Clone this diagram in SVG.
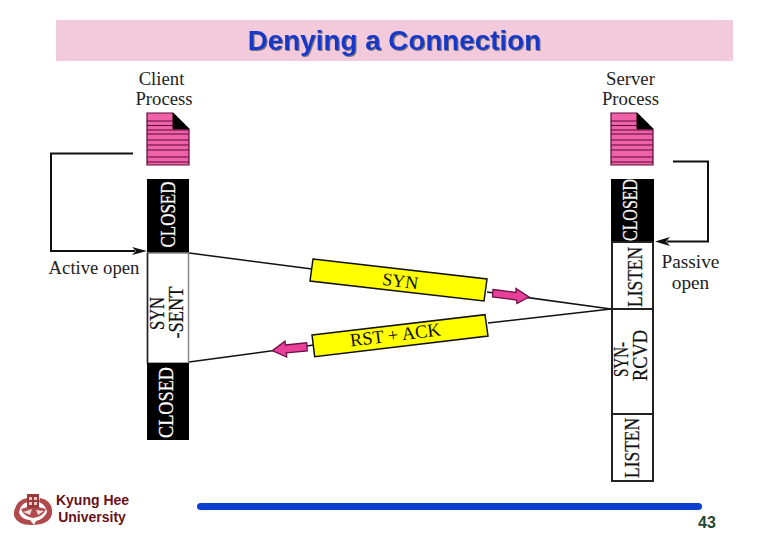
<svg xmlns="http://www.w3.org/2000/svg" width="780" height="540" viewBox="0 0 780 540">
<defs>
<style>
.s{font-family:"Liberation Serif","Times New Roman",serif;fill:#111}
.l{font-size:18.700px;text-anchor:middle;fill:#222}
.st{font-size:21px;text-anchor:middle;stroke:#111;stroke-width:.25}
.w{fill:#fff;stroke:#fff}
.ln{fill:none;stroke:#111;stroke-width:1.5}
.lp{fill:none;stroke:#111;stroke-width:2}
.band{fill:#ffff00;stroke:#111;stroke-width:1.5}
.pink{fill:#e8409a;stroke:#6a1045;stroke-width:1.300}
.dl{stroke:#5a0a30;stroke-width:1.2}
.box{stroke:#222;stroke-width:2;fill:#fff}
.sa{font-family:"Liberation Sans",Arial,sans-serif;font-weight:700}
</style>
<g id="doc">
<path d="M0 0H26L42 16V52H0Z" fill="#ef62aa" stroke="#5a0a30" stroke-width="1.2"/>
<path d="M26 0L42 16H26Z" fill="#000" stroke="#000"/>
<path class="dl" d="M0 8H26M0 12.500H26M0 17H42M0 21H42M0 27H42M0 32H42M0 37H42M0 44H42M0 49H42"/>
</g>
<filter id="sh" x="-5%" y="-20%" width="110%" height="140%"><feDropShadow dx="1" dy="1" stdDeviation="0.4" flood-color="#777"/></filter>
</defs>
<rect id="title-band" x="56" y="20" width="677" height="41" fill="#f3c9dc"/>
<text id="title" class="sa" x="394.500" y="50" font-size="27.800" text-anchor="middle" fill="#1438c8" filter="url(#sh)">Denying a Connection</text>

<g id="connectors">
<path class="ln" d="M189 253L312 269M487 292L611 309"/>
<path class="ln" d="M611 309L488 323M314 345L189 362"/>
<path class="lp" d="M133 153.500H51V251H135"/>
<path d="M147 251L132 247L136 251L132 255Z" fill="#111"/>
<path class="lp" d="M673 161.500H708V241.500H667"/>
<path d="M655 241.500L670 237L666 241.500L670 246Z" fill="#111"/>
</g>

<g id="client-process">
<text class="s l" x="161.500" y="85">Client</text>
<text class="s l" x="164" y="105">Process</text>
<use href="#doc" x="147" y="113"/>
</g>
<g id="client-closed-1">
<rect x="147" y="179" width="42" height="74" fill="#000"/>
<text class="s st w" transform="translate(175 214.500) rotate(-90)" textLength="66" lengthAdjust="spacingAndGlyphs">CLOSED</text>
</g>
<g id="client-syn-sent">
<rect x="147.500" y="253" width="41" height="110" fill="#fff" stroke="#888" stroke-width="1.500"/>
<path d="M147.500 253V363" stroke="#222" stroke-width="1.500"/>
<text class="s st" transform="translate(164 313.500) rotate(-90)" textLength="33" lengthAdjust="spacingAndGlyphs">SYN</text>
<text class="s st" transform="translate(183 312.500) rotate(-90)" textLength="52" lengthAdjust="spacingAndGlyphs">-SENT</text>
</g>
<g id="client-closed-2">
<rect x="147" y="363" width="42" height="77" fill="#000"/>
<text class="s st w" transform="translate(173 402.500) rotate(-90)" textLength="71" lengthAdjust="spacingAndGlyphs">CLOSED</text>
</g>

<g id="server-process">
<text class="s l" x="630.500" y="85">Server</text>
<text class="s l" x="630.500" y="105">Process</text>
<use href="#doc" x="611" y="113"/>
</g>
<g id="server-closed">
<rect x="611" y="179" width="43" height="63" fill="#000"/>
<text class="s st w" transform="translate(637 210) rotate(-90)" textLength="62" lengthAdjust="spacingAndGlyphs">CLOSED</text>
</g>
<g id="server-listen-1">
<rect class="box" x="612" y="242" width="41" height="67"/>
<text class="s st" transform="translate(642 277) rotate(-90)" textLength="60" lengthAdjust="spacingAndGlyphs">LISTEN</text>
</g>
<g id="server-syn-rcvd">
<rect class="box" x="612" y="309" width="41" height="105"/>
<text class="s st" transform="translate(628 359.500) rotate(-90)" textLength="35" lengthAdjust="spacingAndGlyphs">SYN-</text>
<text class="s st" transform="translate(647 355.500) rotate(-90)" textLength="51" lengthAdjust="spacingAndGlyphs">RCVD</text>
</g>
<g id="server-listen-2">
<rect class="box" x="612" y="414" width="41" height="67"/>
<text class="s st" transform="translate(639 448) rotate(-90)" textLength="60" lengthAdjust="spacingAndGlyphs">LISTEN</text>
</g>

<g id="label-active-open"><text class="s l" x="94" y="274">Active open</text></g>
<g id="label-passive-open">
<text class="s l" x="690.500" y="268" style="font-size:19.300px">Passive</text>
<text class="s l" x="690.500" y="289" style="font-size:19.300px">open</text>
</g>

<g id="segment-syn">
<path class="band" d="M313 259L487 279L484 301L310 281Z"/>
<text class="s" font-size="18" text-anchor="middle" transform="translate(399.500 287) rotate(7.500)">SYN</text>
<path class="pink" d="M493 289.500L516 292.500L516 288.500L529 297L517 303.500L516.500 300L492.500 297Z"/>
</g>
<g id="segment-rst-ack">
<path class="band" d="M312 335L485 314.700L488 336L314.700 356.700Z"/>
<text class="s" font-size="18.500" text-anchor="middle" transform="translate(396 341) rotate(-7)">RST + ACK</text>
<path class="pink" d="M306.700 342.800L307.300 351L286.500 352.800L286.700 357L272.300 350.700L285 341.200L285.500 345Z"/>
</g>

<g id="logo">
<g fill="#b04a4c">
<path d="M14 512Q16 500 27 498L28 502Q20 504 19 513Q22 520 30 520L34 525Q18 526 14 516Z"/>
<path d="M52 510Q51 500 40 498L39 502Q46 505 47 512Q44 519 36 521L34 525Q50 524 52 514Z"/>
<path d="M21 509Q32 504 46 509Q43 517 33 518Q24 517 21 509Z"/>
</g>
<path d="M27 494H39V508H27Z" fill="#9a3a3a"/>
<path d="M29 497H32V500H29ZM34 497H37V500H34ZM29 502H32V505H29ZM34 502H37V505H34Z" fill="#e8c8c8"/>
<path d="M23 512L32 509L30 515ZM36 510L44 511L38 515Z" fill="#f0dada"/>
</g>
<g id="university">
<text class="sa" font-size="14" text-anchor="middle" fill="#6b1018" x="92.500" y="505">Kyung Hee</text>
<text class="sa" font-size="14" text-anchor="middle" fill="#6b1018" x="92" y="522">University</text>
</g>
<rect id="footer-rule" x="197" y="503" width="505" height="7" rx="3.500" fill="#0a3fd0"/>
<text id="page-number" class="sa" x="707" y="528" font-size="16" text-anchor="middle" fill="#1f4a2f">43</text>
</svg>
